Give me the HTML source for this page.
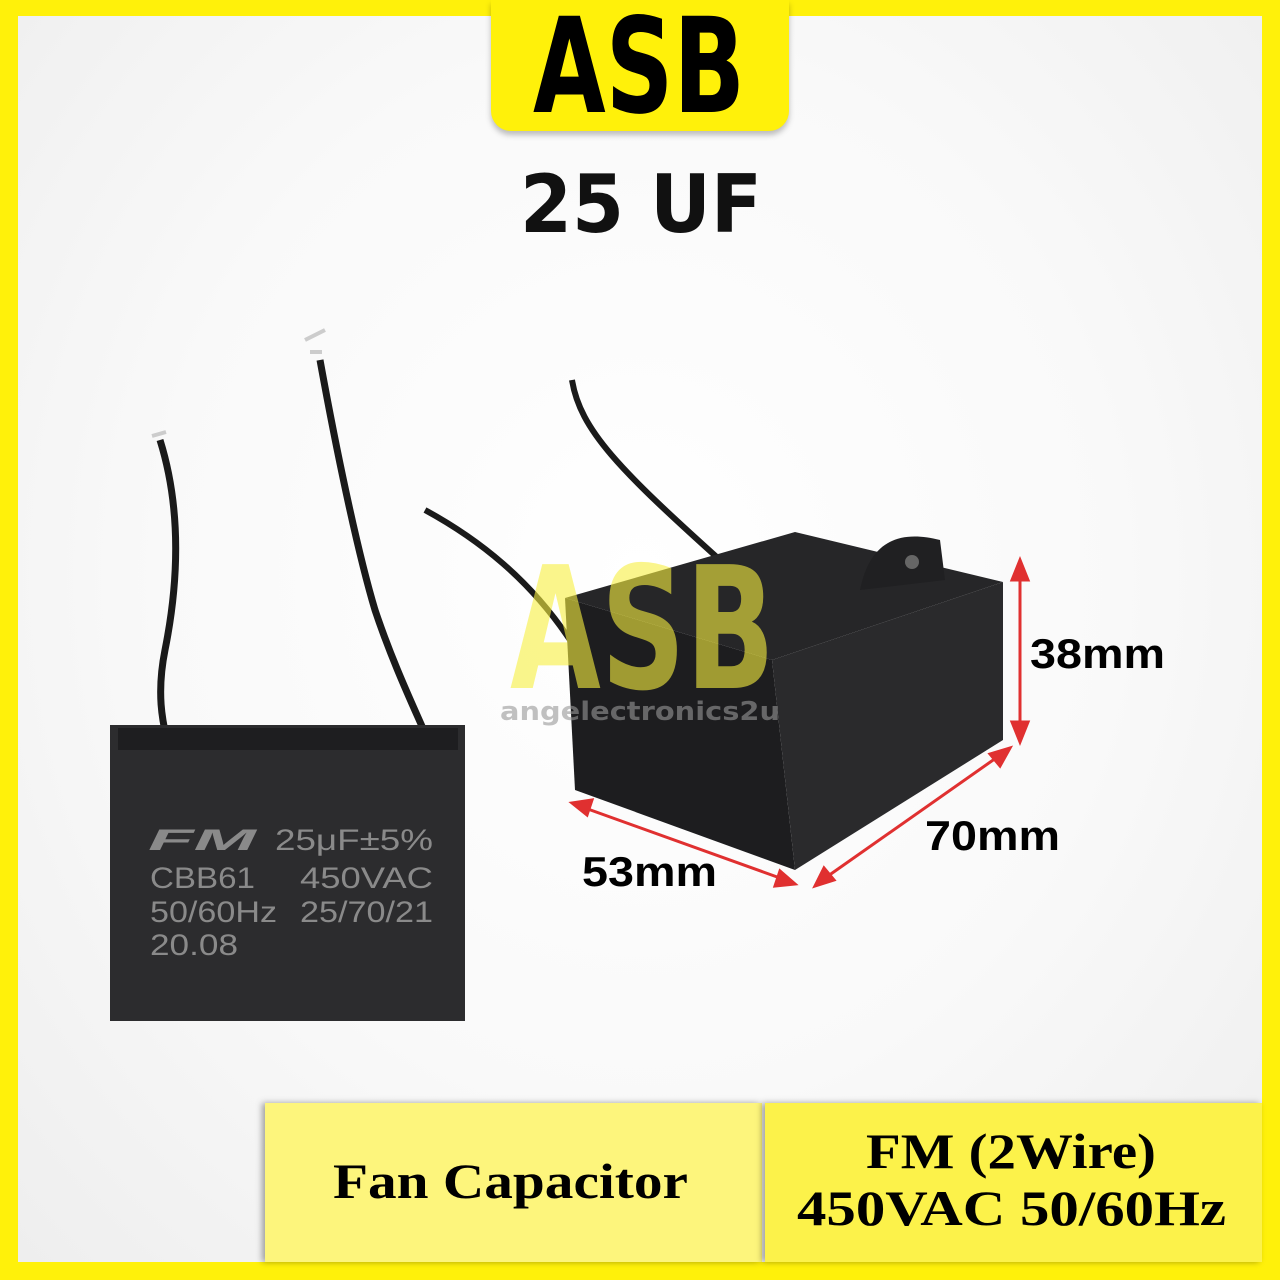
<!DOCTYPE html>
<html><head><style>
body{margin:0;width:1280px;height:1280px;overflow:hidden;background:#fff10a;font-family:"Liberation Sans",sans-serif}
#in{position:absolute;left:18px;top:16px;width:1244px;height:1246px;background:radial-gradient(ellipse at 50% 45%,#ffffff 0%,#f9f9f9 55%,#eeeeee 100%)}
.box{position:absolute;top:1103px;height:159px;box-shadow:-3px 0 6px rgba(0,0,0,.35)}
</style></head><body>
<div id="in"></div>
<div style="position:absolute;left:491px;top:0;width:298px;height:131px;background:#fff10a;border-radius:0 0 20px 20px;box-shadow:0 4px 6px rgba(0,0,0,.25)"></div>
<div class="box" style="left:265px;width:497px;background:#fdf57c"></div>
<div class="box" style="left:765px;width:497px;background:#fcf24a"></div>
<svg width="1280" height="1280" style="position:absolute;left:0;top:0">
<text x="533" y="112" textLength="212" lengthAdjust="spacingAndGlyphs" font-family="DejaVu Sans" font-weight="bold" font-size="132" fill="#000">ASB</text>
<text x="520" y="232" textLength="242" lengthAdjust="spacingAndGlyphs" font-family="DejaVu Sans" font-weight="bold" font-size="80" fill="#111">25 UF</text>
<path d="M160 440 C185 520,175 600,165 650 C155 700,165 730,168 745" stroke="#1a1a1a" stroke-width="7" fill="none"/>
<path d="M320 360 C340 470,360 560,375 610 C395 670,420 720,430 745" stroke="#1a1a1a" stroke-width="7" fill="none"/>
<path d="M152 436 l14 -4 M305 340 l20 -10 M310 352 l12 0" stroke="#ccc" stroke-width="4"/>
<rect x="110" y="725" width="355" height="296" fill="#2c2c2e"/>
<rect x="118" y="728" width="340" height="22" fill="#1e1e20"/>
<g fill="#8a8a8a" font-family="Liberation Sans" font-size="30">
<text x="148" y="850" font-style="italic" font-weight="bold" textLength="108" lengthAdjust="spacingAndGlyphs">FM</text>
<text x="275" y="850" textLength="158" lengthAdjust="spacingAndGlyphs">25μF±5%</text>
<text x="150" y="888" textLength="105" lengthAdjust="spacingAndGlyphs">CBB61</text><text x="300" y="888" textLength="133" lengthAdjust="spacingAndGlyphs">450VAC</text>
<text x="150" y="922" textLength="127" lengthAdjust="spacingAndGlyphs">50/60Hz</text><text x="300" y="922" textLength="133" lengthAdjust="spacingAndGlyphs">25/70/21</text>
<text x="150" y="955" textLength="88" lengthAdjust="spacingAndGlyphs">20.08</text>
</g>
<path d="M572 380 C580 430,620 470,720 560" stroke="#1a1a1a" stroke-width="6" fill="none"/>
<path d="M425 510 C480 540,530 580,570 640" stroke="#1a1a1a" stroke-width="6" fill="none"/>
<polygon points="565,598 795,532 1003,582 772,660" fill="#262628"/>
<polygon points="565,598 772,660 795,870 575,790" fill="#1d1d1f"/>
<polygon points="772,660 1003,582 1003,740 795,870" fill="#2a2a2c"/>
<path d="M860 590 C870 540,900 530,940 540 L945 580 Z" fill="#202022"/>
<circle cx="912" cy="562" r="7" fill="#666"/>
<text x="510" y="688" textLength="265" lengthAdjust="spacingAndGlyphs" font-family="DejaVu Sans" font-weight="bold" font-size="170" fill="#f8f040" opacity="0.6">ASB</text>
<text x="500" y="720" textLength="280" lengthAdjust="spacingAndGlyphs" font-family="DejaVu Sans" font-weight="bold" font-size="26" fill="#999" opacity="0.6">angelectronics2u</text>
<g stroke="#e03030" stroke-width="3" fill="#e03030">
<line x1="1020" y1="575" x2="1020" y2="728"/><polygon points="1020,560 1012,580 1028,580"/><polygon points="1020,742 1012,722 1028,722"/>
<line x1="585" y1="808" x2="780" y2="878"/><polygon points="572,803 592,800 587,815"/><polygon points="795,884 775,886 780,871"/>
<line x1="828" y1="876" x2="996" y2="758"/><polygon points="815,886 824,868 834,880"/><polygon points="1010,748 1000,766 990,754"/>
</g>
<g font-family="Liberation Sans" font-weight="bold" font-size="42" fill="#000">
<text x="1030" y="668" textLength="135" lengthAdjust="spacingAndGlyphs">38mm</text>
<text x="925" y="850" textLength="135" lengthAdjust="spacingAndGlyphs">70mm</text>
<text x="582" y="886" textLength="135" lengthAdjust="spacingAndGlyphs">53mm</text>
</g>
<g font-family="Liberation Serif" font-weight="bold" fill="#000">
<text x="333" y="1198" font-size="50" textLength="355" lengthAdjust="spacingAndGlyphs">Fan Capacitor</text>
<text x="866" y="1168" font-size="50" textLength="290" lengthAdjust="spacingAndGlyphs">FM (2Wire)</text>
<text x="797" y="1225" font-size="50" textLength="429" lengthAdjust="spacingAndGlyphs">450VAC 50/60Hz</text>
</g>
</svg>
</body></html>
